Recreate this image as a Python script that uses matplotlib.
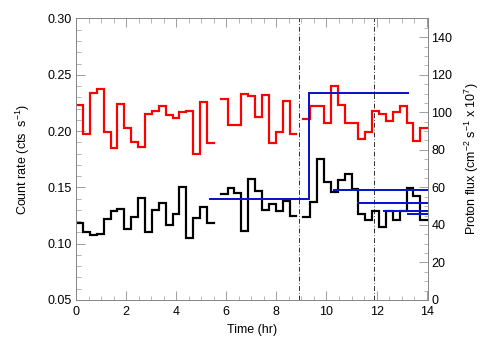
import numpy as np
import matplotlib
matplotlib.use("Agg")
import matplotlib.pyplot as plt
from matplotlib.ticker import MultipleLocator

plt.rcParams['font.family'] = ['Liberation Sans', 'DejaVu Sans']
plt.rcParams['mathtext.fontset'] = 'custom'
plt.rcParams['mathtext.rm'] = 'Liberation Sans'
plt.rcParams['mathtext.it'] = 'Liberation Sans'
plt.rcParams['mathtext.default'] = 'regular'

# ---- data ----
bin_width_hr = 0.275
nan = np.nan
red_rate = [0.223, 0.197, 0.234, 0.237, 0.199, 0.185, 0.224, 0.203, 0.190, 0.186,
            0.215, 0.2175, 0.222, 0.214, 0.212, 0.217, 0.218, 0.180, 0.226, 0.189,
            nan, 0.2286, 0.205, 0.2057, 0.2333, 0.231, 0.2125, 0.2324, 0.189, 0.199,
            0.227, 0.197, nan, 0.211, 0.2226, 0.2226, 0.207, 0.240, 0.2235, 0.207,
            0.207, 0.193, 0.199, 0.218, 0.215, 0.209, 0.217, 0.2226, 0.207, 0.191,
            0.203]
black_rate = [0.1188, 0.1108, 0.1078, 0.1087, 0.1218, 0.1286, 0.131, 0.1129, 0.1241, 0.1405,
              0.1108, 0.1295, 0.136, 0.1167, 0.1262, 0.1499, 0.1054, 0.1227, 0.133, 0.1188,
              nan, 0.144, 0.1494, 0.145, 0.1117, 0.1577, 0.1464, 0.130, 0.135, 0.1294,
              0.1383, 0.1247, nan, 0.124, 0.137, 0.1755, 0.1552, 0.1458, 0.1568, 0.162,
              0.1485, 0.1265, 0.1212, 0.1292, 0.1147, 0.1294, 0.1206, 0.1294, 0.1494, 0.142,
              0.121]

# proton flux (right axis)
flux_main_t = [5.35, 9.29, 9.29, 13.26]
flux_main_v = [53.6, 53.6, 110.4, 110.4]
flux_seg_start = [10.3, 11.27, 12.3, 13.27]
flux_seg_end = [14.0, 14.0, 14.0, 14.0]
flux_seg_v = [58.4, 51.5, 47.5, 45.8]

event_times = [8.9, 11.9]

xticks = [0, 2, 4, 6, 8, 10, 12, 14]
yticks_left = [0.05, 0.10, 0.15, 0.20, 0.25, 0.30]
yticks_right = [0, 20, 40, 60, 80, 100, 120, 140]

# ---- figure ----
fig = plt.figure(figsize=(7, 5), dpi=72)
ax = fig.add_axes([0.151, 0.1667, 0.698, 0.782])
ax2 = ax.twinx()

n = len(red_rate)
edges = np.arange(n + 1) * bin_width_hr
red_y = np.append(red_rate, red_rate[-1])
blk_y = np.append(black_rate, black_rate[-1])

ax.step(edges, blk_y, where='post', color='black', lw=2.2, solid_joinstyle='miter', zorder=2)
ax.step(edges, red_y, where='post', color='#ff0000', lw=2.2, solid_joinstyle='miter', zorder=3)

for t in event_times:
    ax.axvline(t, color='black', lw=0.8, ls=(0, (6, 2.5, 1, 2.5)), zorder=1)

blue = '#0a14d2'
ax2.plot(flux_main_t, flux_main_v, color=blue, lw=2.0, solid_joinstyle='miter', zorder=4)
for s, e, v in zip(flux_seg_start, flux_seg_end, flux_seg_v):
    ax2.plot([s, e], [v, v], color=blue, lw=2.0, zorder=4)

ax.set_xlim(0, 14.05)
ax.set_ylim(0.05, 0.30)
ax2.set_ylim(0, 150)
ax.set_xticks(xticks)
ax.set_xticklabels([str(v) for v in xticks])
ax.set_yticks(yticks_left)
ax.set_yticklabels(['%.2f' % v for v in yticks_left])
ax2.set_yticks(yticks_right)
ax2.set_yticklabels([str(v) for v in yticks_right])
ax.xaxis.set_minor_locator(MultipleLocator(0.5))
ax.yaxis.set_minor_locator(MultipleLocator(0.01))
ax2.yaxis.set_minor_locator(MultipleLocator(5))

spine_c = '#888888'
for a in (ax, ax2):
    for s in a.spines.values():
        s.set_color(spine_c)
        s.set_linewidth(1.0)
ax.tick_params(axis='both', which='both', direction='in', top=True, right=False,
               color=spine_c, labelsize=12.5, labelcolor='black')
ax.tick_params(which='major', length=9)
ax.tick_params(which='minor', length=4.5)
ax2.tick_params(axis='y', which='both', direction='in', color=spine_c,
                labelsize=12.5, labelcolor='black')
ax2.tick_params(which='major', length=9)
ax2.tick_params(which='minor', length=4.5)
ax.tick_params(axis='x', pad=6)
ax.tick_params(axis='y', pad=4)

ax.set_xlabel('Time (hr)', fontsize=12.5, labelpad=6)
ax.set_ylabel('Count rate (cts  s$^{-1}$)', fontsize=12.5, labelpad=16)
ax2.set_ylabel('Proton flux (cm$^{-2}$ s$^{-1}$ x 10$^{7}$)', fontsize=12.5, labelpad=10)

fig.savefig('out.png', dpi=72)
